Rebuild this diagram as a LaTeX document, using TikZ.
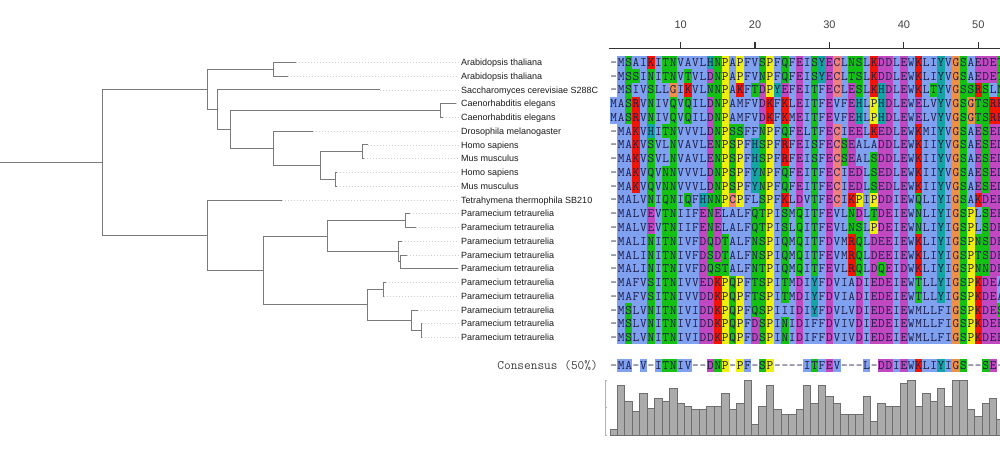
\documentclass[tikz,border=0pt]{standalone}
\usepackage{fontspec}
\setmainfont{Liberation Sans}
\usetikzlibrary{calc}
% Clustal-like residue colours
\definecolor{cA}{HTML}{80A0F0}
\colorlet{cI}{cA}\colorlet{cL}{cA}\colorlet{cM}{cA}\colorlet{cF}{cA}\colorlet{cW}{cA}\colorlet{cV}{cA}
\definecolor{cC}{HTML}{F08080}
\definecolor{cK}{HTML}{F01505}\colorlet{cR}{cK}
\definecolor{cD}{HTML}{C048C0}\colorlet{cE}{cD}
\definecolor{cN}{HTML}{15C015}\colorlet{cQ}{cN}\colorlet{cS}{cN}\colorlet{cT}{cN}
\definecolor{cG}{HTML}{F09048}
\definecolor{cP}{HTML}{EEEE10}
\definecolor{cH}{HTML}{15A4A4}\colorlet{cY}{cH}
\definecolor{seqtext}{HTML}{1C1C48}
\definecolor{treeline}{HTML}{7A7A7A}
\definecolor{leadercol}{HTML}{CFCFCF}
\definecolor{labtext}{HTML}{1A1A1A}
\definecolor{barfill}{HTML}{ABABAB}
\definecolor{bardraw}{HTML}{6E6E6E}

\newcount\colc
\newcommand\seqcell[1]{%
  \pgfmathsetmacro\cx{610+7.44*(\the\colc-0.5)}%
  \if#1-\else
    \fill[c#1] (\cx-3.72,\rowy-6.875) rectangle (\cx+3.72,\rowy+6.875);%
  \fi
  \node[res] (\rowname-\the\colc) at (\cx,\rowy+4.0) {#1};%
}
\newcommand\doseq[1]{\ifx#1\relax\else\global\advance\colc by 1\relax\seqcell{#1}\expandafter\doseq\fi}
\newcommand\seqrow[3]{\global\colc=0\relax\def\rowy{#2}\def\rowname{#1}\doseq#3\relax}

\begin{document}
\begin{tikzpicture}[x=1pt,y=-1pt,
  res/.style={font=\ttfamily\fontsize{13}{13}\selectfont, text=seqtext, inner sep=0pt, anchor=base},
  lab/.style={font=\fontsize{9}{9}\selectfont, text=labtext, inner sep=0pt, anchor=base west},
  tree/.style={draw=treeline, line width=1pt},
  leader/.style={draw=leadercol, line width=0.6pt, dash pattern=on 1pt off 2pt, shorten >=2.5pt},
  rulerline/.style={draw=black!80, line width=1.2pt},
  num/.style={font=\fontsize{11}{11}\selectfont, text=black!75, inner sep=0pt, anchor=base},
  bar/.style={fill=barfill, draw=bardraw, line width=0.8pt},
  frame/.style={draw=black!30, line width=0.8pt},
  conslab/.style={font=\ttfamily\fontsize{13}{13}\selectfont, text=black!75, inner sep=0pt, anchor=base east}]
\useasboundingbox (0,0) rectangle (1000,449);
\begin{scope}
\clip (0,0) rectangle (1000,449);

% ---------------- ruler ----------------
\coordinate (rulerL) at (609.3,48.3);
\coordinate (rulerR) at (1000,48.3);
\draw[rulerline] (rulerL) -- (rulerR);
\foreach \k in {10,20,30,40,50}{
  \pgfmathsetmacro\tx{610+7.44*(\k-0.5)}
  \coordinate (tick\k) at (\tx,48.3);
  \draw[rulerline] (tick\k) -- ++(0,-6.5);
  \node[num] (num\k) at (\tx,28.2) {\k};
}

% ---------------- tree ----------------
\coordinate (t1) at (296,62.5);
\coordinate (t2) at (287.7,76.25);
\coordinate (t3) at (380,90);
\coordinate (t4) at (455.7,103.75);
\coordinate (t5) at (443,117.5);
\coordinate (t6) at (313.3,131.25);
\coordinate (t7) at (368,145);
\coordinate (t8) at (364,158.75);
\coordinate (t9) at (336.5,172.5);
\coordinate (t10) at (336.5,186.25);
\coordinate (t11) at (282,200);
\coordinate (t12) at (410,213.75);
\coordinate (t13) at (416,227.5);
\coordinate (t14) at (402,241.25);
\coordinate (t15) at (406.7,255);
\coordinate (t16) at (458.3,268.75);
\coordinate (t17) at (386,282.5);
\coordinate (t18) at (384,296.25);
\coordinate (t19) at (418,310);
\coordinate (t20) at (422,323.75);
\coordinate (t21) at (422,337.5);

\coordinate (N12) at (273.3,69.375);
\coordinate (N45) at (440.7,110.625);
\coordinate (N78) at (362.3,151.875);
\coordinate (N910) at (335,179.375);
\coordinate (NHM) at (320.3,165.625);
\coordinate (NDHM) at (273.3,148.44);
\coordinate (NCDHM) at (230.7,129.53);
\coordinate (NSC) at (217.3,109.77);
\coordinate (NA) at (207.7,89.57);
\coordinate (N1213) at (405.7,220.625);
\coordinate (N1516) at (400,261.875);
\coordinate (N14) at (398.7,251.56);
\coordinate (NP1) at (327.7,236.09);
\coordinate (N1718) at (383,289.375);
\coordinate (N2021) at (421,330.625);
\coordinate (N19) at (411,320.31);
\coordinate (NP2) at (367.3,304.84);
\coordinate (NP) at (263.7,270.47);
\coordinate (NB) at (207.7,235.23);
\coordinate (root) at (102.3,162.4);
\coordinate (rootstub) at (0,162.4);

\draw[tree] (rootstub) -- (root);
\draw[tree] (NA) -| (root);
\draw[tree] (NB) -| (root);
\draw[tree] (N12) -| (NA);
\draw[tree] (NSC) -| (NA);
\draw[tree] (t1) -| (N12);
\draw[tree] (t2) -| (N12);
\draw[tree] (t3) -| (NSC);
\draw[tree] (NCDHM) -| (NSC);
\draw[tree] (N45) -| (NCDHM);
\draw[tree] (NDHM) -| (NCDHM);
\draw[tree] (t4) -| (N45);
\draw[tree] (t5) -| (N45);
\draw[tree] (t6) -| (NDHM);
\draw[tree] (NHM) -| (NDHM);
\draw[tree] (N78) -| (NHM);
\draw[tree] (N910) -| (NHM);
\draw[tree] (t7) -| (N78);
\draw[tree] (t8) -| (N78);
\draw[tree] (t9) -| (N910);
\draw[tree] (t10) -| (N910);
\draw[tree] (t11) -| (NB);
\draw[tree] (NP) -| (NB);
\draw[tree] (NP1) -| (NP);
\draw[tree] (NP2) -| (NP);
\draw[tree] (N1213) -| (NP1);
\draw[tree] (N14) -| (NP1);
\draw[tree] (t12) -| (N1213);
\draw[tree] (t13) -| (N1213);
\draw[tree] (t14) -| (N14);
\draw[tree] (N1516) -| (N14);
\draw[tree] (t15) -| (N1516);
\draw[tree] (t16) -| (N1516);
\draw[tree] (N1718) -| (NP2);
\draw[tree] (N19) -| (NP2);
\draw[tree] (t17) -| (N1718);
\draw[tree] (t18) -| (N1718);
\draw[tree] (t19) -| (N19);
\draw[tree] (N2021) -| (N19);
\draw[tree] (t20) -| (N2021);
\draw[tree] (t21) -| (N2021);

% ---------------- labels + leaders ----------------
\foreach \i/\name in {1/Arabidopsis thaliana,2/Arabidopsis thaliana,3/Saccharomyces cerevisiae S288C,
  4/Caenorhabditis elegans,5/Caenorhabditis elegans,6/Drosophila melanogaster,7/Homo sapiens,
  8/Mus musculus,9/Homo sapiens,10/Mus musculus,11/Tetrahymena thermophila SB210,
  12/Paramecium tetraurelia,13/Paramecium tetraurelia,14/Paramecium tetraurelia,15/Paramecium tetraurelia,
  16/Paramecium tetraurelia,17/Paramecium tetraurelia,18/Paramecium tetraurelia,19/Paramecium tetraurelia,
  20/Paramecium tetraurelia,21/Paramecium tetraurelia}{
  \pgfmathsetmacro\ly{62.5+13.75*(\i-1)+3.2}
  \node[lab] (L\i) at (461,\ly) {\name};
  \draw[leader] (t\i) -- (t\i -| L\i.west);
}

% ---------------- alignment ----------------
\seqrow{s1}{62.5}{-MSAIKITNVAVLHNPAPFVSPFQFEISYECLNSLKDDLEWKLIYVGSAEDET}
\seqrow{s2}{76.25}{-MSSINITNVTVLDNPAPFVNPFQFEISYECLTSLKDDLEWKLIYVGSAEDET}
\seqrow{s3}{90}{-MSIVSLLGIKVLNNPAKFTDPYEFEITFECLESLKHDLEWKLTYVGSSRSLN}
\seqrow{s4}{103.75}{MASRVNIVQVQILDNPAMFVDKFKLEITFEVFEHLPHDLEWELVYVGSGTSRK}
\seqrow{s5}{117.5}{MASRVNIVQVQILDNPAMFVDKFKMEITFEVFEHLPHDLEWELVYVGSGTSRK}
\seqrow{s6}{131.25}{-MAKVHITNVVVLDNPSSFFNPFQFELTFECIEELKEDLEWKMIYVGSAESED}
\seqrow{s7}{145}{-MAKVSVLNVAVLENPSPFHSPFRFEISFECSEALADDLEWKIIYVGSAESED}
\seqrow{s8}{158.75}{-MAKVSVLNVAVLENPSPFHSPFRFEISFECSEALSDDLEWKIIYVGSAESED}
\seqrow{s9}{172.5}{-MAKVQVNNVVVLDNPSPFYNPFQFEITFECIEDLSEDLEWKIIYVGSAESED}
\seqrow{s10}{186.25}{-MAKVQVNNVVVLDNPSPFYNPFQFEITFECIEDLSEDLEWKIIYVGSAESED}
\seqrow{s11}{200}{-MALVNIQNIQFHNNPCPFLSPFKLDVTFECIKPIPDDIEWQLIYIGSAKDEE}
\seqrow{s12}{213.75}{-MALVEVTNIIFENELALFQTPISMQITFEVLNDLTDEIEWNLIYIGSPLSEE}
\seqrow{s13}{227.5}{-MALVEVTNIIFENELALFQTPISLQITFEVLNSLPDEIEWNLIYIGSPLSDE}
\seqrow{s14}{241.25}{-MALINITNIVFDQDTALFNSPIQMQITFDVMRQLDEEIEWKLIYIGSPNSDE}
\seqrow{s15}{255}{-MALINITNIVFDSDTALFNSPIQMQITFEVMRQLDEEIEWKLIYIGSPTSDE}
\seqrow{s16}{268.75}{-MALINITNIVFDQSTALFNTPIQMQITFEVLRQLDQEIDWKLIYIGSPNNDE}
\seqrow{s17}{282.5}{-MAFVSITNIVVEDKPQPFTSPITMDIYFDVIADIEDEIEWTLLYIGSPKDEA}
\seqrow{s18}{296.25}{-MAFVSITNIVVDDKPQPFTSPITMDIYFDVIADIEDEIEWTLLYIGSPKDEA}
\seqrow{s19}{310}{-MSLVNITNIVIDDKPQPFQSPIIIDIYFDVLVDIEDEIEWMLLFIGSPKDES}
\seqrow{s20}{323.75}{-MSLVNITNIVIDDKPQPFDSPINIDIFFDVIVDIEDEIEWMLLFIGSPKDEE}
\seqrow{s21}{337.5}{-MSLVNITNIVIDDKPQPFDSPINIDIFFDVIVDIEDEIEWMLLFIGSPKDEE}

% ---------------- consensus ----------------
\node[conslab] (conslabel) at (598,369.6) {Consensus (50\%)};
\seqrow{cons}{365.6}{-MA-V-ITNIV--DNP-PF-SP----ITFEV---L-DDIEWKLIYIGS--SE-}

% ---------------- conservation histogram ----------------
\coordinate (frTop) at (605,380);
\coordinate (frMid) at (605,407.5);
\coordinate (frBot) at (605,435);
\draw[frame] ($(frTop)+(2,0)$) -- (frTop) -- (frBot) -- ($(frBot)+(2,0)$);
\draw[frame] (frMid) -- ++(2,0);
\foreach \z [count=\k] in {178,45,92,124,68,115,85,92,53,100,108,116,116,108,108,68,116,100,30,163,
  108,45,116,132,132,116,45,100,45,77,100,132,132,132,77,155,100,108,108,37,
  30,108,68,92,53,108,30,30,116,140,100,85,148}{
  \pgfmathsetmacro\bx{610+7.44*(\k-1)}
  \draw[bar] (\bx,{380+(\z-28)*0.3293}) rectangle ({\bx+7.44},435);
}
\end{scope}
\end{tikzpicture}
\end{document}
